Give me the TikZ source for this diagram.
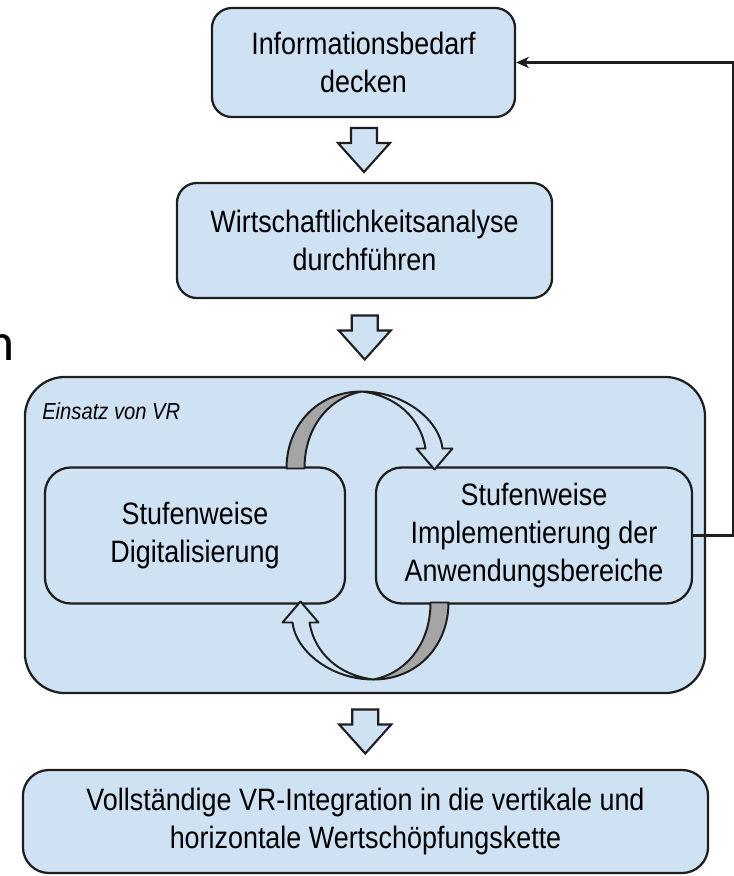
\documentclass[tikz,border=0pt]{standalone}
\usepackage{fontspec}
\setmainfont{Liberation Sans}[FakeStretch=0.87]
\newfontfamily\calfont{Carlito}
\usetikzlibrary{calc,arrows.meta}
\definecolor{boxblue}{RGB}{207,226,243}
\definecolor{edgecol}{RGB}{30,30,30}
\definecolor{ribbongray}{RGB}{165,165,165}
\tikzset{
  stepbox/.style={draw=edgecol, fill=boxblue, line width=1.6pt, rounded corners=0.5cm,
    align=center, inner sep=0pt, font=\fontsize{22}{27}\selectfont},
  blockarrow/.style={draw=edgecol, fill=boxblue, line width=1.5pt, line join=miter},
  ribbon/.style={draw=edgecol, line width=1.4pt, line join=round},
  feedback/.style={draw=edgecol, line width=1.5pt, -{Stealth[length=9pt,width=8pt,inset=2.5pt]}},
}
% hollow arrow between two steps, centred on #1
\newcommand{\dnarrow}[1]{%
  \draw[blockarrow] (#1) ++(-13,-22) -- ++(26,0) -- ++(0,15) -- ++(13,0)
    -- ++(-26,29) -- ++(-26,-29) -- ++(13,0) -- cycle;}
% half of the cycle, drawn around the origin
\newcommand{\cyclearrow}{%
  \filldraw[ribbon, fill=ribbongray] (-81,-67) .. controls (-81,-110) and (-50,-144) .. (-6,-144)
    .. controls (-37,-138) and (-63,-110) .. (-63,-67) -- cycle;
  \filldraw[ribbon, fill=boxblue] (-6,-144) .. controls (37,-144) and (72,-115) .. (75,-87)
    -- (85,-87) -- (67,-66) -- (49,-87) -- (58,-87)
    .. controls (53,-118) and (28,-140) .. (-6,-144) -- cycle;}
\begin{document}
\begin{tikzpicture}[x=0.025cm, y=-0.025cm]
  \useasboundingbox (0,0) rectangle (734,876);
  \node[anchor=base west, inner sep=0pt, font=\calfont\fontsize{38}{40}\selectfont] (frag) at (-14,360) {n};
  % steps
  \node[stepbox, minimum width=7.575cm, minimum height=2.725cm] (info) at (363.5,62.5) {Informationsbedarf\\decken};
  \node[stepbox, minimum width=9.375cm, minimum height=2.875cm] (wirt) at (364.5,240.5) {Wirtschaftlichkeitsanalyse\\durchführen};
  \node[stepbox, rounded corners=1cm, minimum width=17cm, minimum height=7.9cm] (vr) at (365,535) {};
  \node[anchor=base west, inner sep=0pt, font=\itshape\fontsize{16.5}{19}\selectfont] (vrlabel) at (42,419) {Einsatz von VR};
  \node[stepbox, rounded corners=0.65cm, minimum width=7.5cm, minimum height=3.4cm] (dig) at (195,535.5) {Stufenweise\\Digitalisierung};
  \node[stepbox, rounded corners=0.65cm, minimum width=7.9cm, minimum height=3.4cm] (impl) at (534,535.5) {Stufenweise\\Implementierung der\\Anwendungsbereiche};
  \node[stepbox, rounded corners=0.65cm, minimum width=17.125cm, minimum height=2.575cm] (voll) at (365.5,821.5) {Vollständige VR-Integration in die vertikale und\\horizontale Wertschöpfungskette};
  % arrows
  \dnarrow{$(info.south)!.5!(wirt.north)$}
  \dnarrow{$(wirt.south)!.5!(vr.north)$}
  \dnarrow{$(vr.south)!.5!(voll.north)$}
  \draw[feedback] (impl.east) -- ++(40,0) |- (info.east);
  % cycle between the two inner steps
  \coordinate (cyc) at ($(dig.north east)!.5!(impl.south west)+(7,0)$);
  \begin{scope}[shift={(cyc)}]
    \cyclearrow
  \end{scope}
  \begin{scope}[shift={(cyc)}, rotate=180]
    \cyclearrow
  \end{scope}
\end{tikzpicture}
\end{document}
